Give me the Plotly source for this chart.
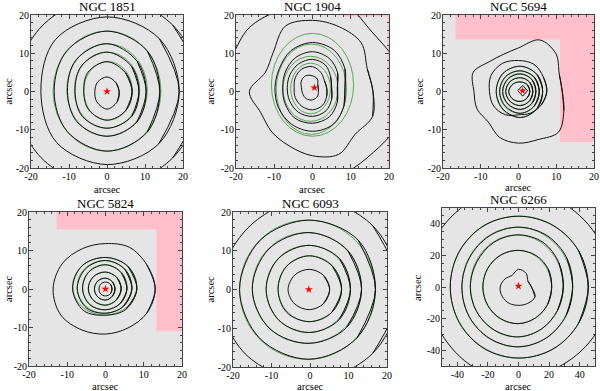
import numpy as np
import plotly.graph_objects as go

# ---------------- data (arcsec) ----------------
NAMES = ["NGC 1851", "NGC 1904", "NGC 5694", "NGC 5824", "NGC 6093", "NGC 6266"]
LIMITS = [20, 20, 20, 20, 20, 50]
TICK_VALS_20 = [-20, -10, 0, 10, 20]
TICK_TEXT_20 = ["-20", "-10", "0", "10", "20"]
TICK_VALS_50 = [-40, -20, 0, 20, 40]
TICK_TEXT_50 = ["-40", "-20", "0", "20", "40"]

# cluster centres (red star)
STAR_X = [0.0, 0.5, 1.1, 0.0, -0.3, 0.0]
STAR_Y = [0.0, 1.0, 0.2, 0.0, 0.0, 0.6]

# isophotes: (centre x, centre y, radii at equally spaced angles starting East, counter-clockwise)
ISO_1851 = [
    (0, 0, [3.2, 3.3, 3.8, 3.5, 3.2, 3.8, 4.6, 3.8]),
    (0, 0, [6.6, 6.9, 7.8, 7.1, 6.1, 6.8, 7.5, 7.0]),
    (0, 0, [8.4, 9.2, 10.3, 9.5, 8.4, 9.2, 9.6, 9.2]),
    (0, 0, [10.3, 11.2, 12.5, 11.6, 10.4, 11.2, 11.7, 11.2]),
    (0, 0, [13.9, 15.0, 15.8, 15.0, 13.9, 14.8, 15.6, 15.0]),
    (0, 0, [19.0, 19.5, 19.5, 19.2, 17.4, 18.8, 19.1, 19.3]),
    (0, 0, [25.0, 24.5, 25.0, 24.2, 24.5, 24.5, 25.0, 24.5]),
]
ISO_1904 = [
    (0, 1, [1.5, 1.6, 2.6, 3.1, 3.6, 3.4, 2.9, 3.0, 3.3, 3.2, 2.6, 1.8]),
    (0, 1, [3.7, 3.6, 4.5, 5.5, 5.6, 5.2, 4.8, 5.2, 5.6, 5.8, 5.3, 4.3]),
    (0, 1, [5.0, 5.5, 6.8, 7.4, 7.2, 6.8, 6.6, 6.9, 7.4, 7.5, 7.0, 5.8]),
    (0, 1, [6.5, 7.6, 8.8, 9.4, 9.0, 8.2, 7.8, 8.3, 9.2, 9.3, 8.8, 7.5]),
    (0, 1, [8.5, 9.8, 11.3, 11.8, 11.2, 10.0, 9.8, 10.3, 11.0, 11.4, 11.0, 9.5]),
    (0, 0, [15.8, 15.5, 18.0, 18.3, 18.6, 18.5, 14.5, 13.3, 16.5, 14.6, 15.0, 15.5, 16.8, 17.8, 15.8, 17.0]),
    (0, 0, [26, 23, 22, 24, 24, 23, 23.5, 23, 26, 28, 30, 30, 25, 23, 22.5, 24]),
]
ISO_5694 = [
    (1.1, 0.2, [1.3, 1.4, 1.3, 1.4]),
    (0.6, 0, [2.4, 2.5, 2.5, 2.8, 3.2, 2.9, 2.6, 2.4]),
    (0.6, 0, [3.2, 3.4, 3.6, 3.8, 4.0, 3.8, 3.7, 3.4]),
    (0.6, 0, [4.0, 4.3, 4.6, 4.7, 4.8, 4.7, 4.7, 4.3]),
    (0.6, 0, [4.9, 5.2, 5.4, 5.6, 5.6, 5.6, 5.7, 5.2]),
    (0.6, 0, [5.8, 6.2, 6.6, 6.7, 6.5, 6.6, 6.8, 6.2]),
    (0, 0, [7.5, 7.6, 8.2, 8.1, 8.5, 8.4, 7.7, 7.6, 7.0, 6.1, 6.5, 7.0]),
    (0, 0, [11.6, 11.7, 14.0, 14.6, 11.4, 10.5, 11.0, 13.0, 11.8, 11.9, 11.3, 13.0, 13.5, 13.6, 15.0, 13.0]),
]
ISO_5824 = [
    (0, 0, [1.7, 1.8, 1.8, 1.8, 1.7, 1.8, 1.8, 1.8]),
    (0, 0, [2.5, 2.6, 2.8, 2.9, 2.9, 2.9, 2.9, 2.6]),
    (0, 0, [4.1, 4.2, 4.4, 4.5, 4.5, 4.3, 4.2, 4.0]),
    (0, 0, [5.6, 5.9, 6.3, 6.2, 6.0, 5.8, 5.4, 5.4]),
    (0, 0, [6.9, 7.2, 7.4, 7.4, 7.4, 7.0, 6.3, 6.5]),
    (0, 0, [8.2, 8.3, 8.2, 8.6, 8.6, 8.0, 6.8, 7.5]),
    (0, 0, [13.0, 12.5, 12.5, 11.8, 12.1, 13.1, 13.7, 13.5, 12.3, 11.7, 11.7, 12.5]),
]
ISO_6093 = [
    (-0.2, 0, [5.3, 5.2, 5.2, 5.3, 5.5, 5.3, 5.2, 5.2]),
    (-0.2, 0, [8.4, 8.5, 8.7, 8.4, 8.1, 8.3, 8.3, 8.3]),
    (-0.2, 0, [10.7, 11.2, 11.4, 11.3, 11.2, 11.2, 11.1, 11.0]),
    (-0.2, 0, [13.6, 14.2, 14.7, 14.8, 14.8, 14.4, 13.9, 13.8]),
    (-0.2, 0, [17.2, 18.0, 17.9, 18.0, 18.1, 18.0, 18.0, 17.6]),
    (-0.2, 0, [23.5, 23.3, 23.5, 22.5, 23.5, 23.5, 23.5, 23.3]),
]
ISO_6266 = [
    (0, 0, [8.5, 7.2, 10.0, 11.2, 8.5, 10.2, 12.0, 12.2, 12.0, 11.6, 12.0, 12.5]),
    (0, 0, [21.7, 22.5, 23.0, 23.2, 23.3, 23.3, 23.3, 23.2, 23.2, 23.2, 22.5, 22.0]),
    (0, 0, [29.3, 30.5, 32.5, 33.0, 32.5, 31.5, 31.5, 31.5, 31.5, 31.6, 30.5, 29.5]),
    (0, 0, [35.4, 36.5, 37.5, 37.9, 37.5, 37.0, 37.0, 37.3, 37.6, 37.9, 37.0, 36.0]),
    (0, 0, [45.6, 45.5, 45.0, 44.8, 45.0, 44.8, 44.6, 44.8, 45.0, 45.0, 45.3, 45.5]),
    (0, 0, [60.0, 60.5, 60.5, 62.0, 62.5, 62.5, 61.0, 58.5, 58.5, 57.5, 57.0, 58.5]),
]

# fitted ellipses: (x0, y0, semi-axis x, semi-axis y)
ELL_1851 = [(0.25, 0.15, 6.4, 7.65), (0.0, 0.35, 8.6, 9.95), (0.0, 0.4, 10.6, 12.1), (0.0, 0.1, 14.2, 15.7)]
ELL_1904 = [(0, 1.75, 10.75, 13.45), (-0.3, 0.6, 9.2, 11.8), (-0.5, 0.7, 7.2, 8.5), (-0.5, 0.8, 5.2, 6.6)]
ELL_5694 = [(0.2, 0, 2.8, 2.55), (0.2, 0, 3.6, 3.65), (0.2, 0, 4.4, 4.65), (0.25, -0.15, 5.25, 5.55), (0.25, -0.1, 6.15, 6.7)]
ELL_5824 = [(-0.2, 0, 2.7, 2.85), (-0.2, 0.1, 4.3, 4.3), (-0.2, 0.45, 5.8, 5.85), (-0.25, 0.55, 7.15, 6.85), (-0.2, 0.7, 8.4, 7.5)]
ELL_6093 = [(-0.05, 0.2, 8.25, 8.5), (-0.45, 0.15, 10.95, 11.25), (-0.8, 0.4, 14.2, 14.3), (-0.65, -0.05, 17.65, 17.95)]
ELL_6266 = [(-0.8, 0, 22.5, 23.2), (-1.1, 0.7, 30.4, 32.3), (-0.8, 0, 36.2, 37.9), (0.5, 0, 45.1, 44.9)]

# masked regions: (x0, x1, y0, y1)
MASK_1904 = [(8, 20, 19.6, 20), (19.6, 20, -20, 20)]
MASK_5694 = [(-16.7, 20, 13.6, 20), (11, 20, -13.2, 20)]
MASK_5824 = [(-12.8, 20, 15.5, 20), (13.3, 20, -11, 20)]

ISOS = [ISO_1851, ISO_1904, ISO_5694, ISO_5824, ISO_6093, ISO_6266]
ELLS = [ELL_1851, ELL_1904, ELL_5694, ELL_5824, ELL_6093, ELL_6266]
MASKS = [[], MASK_1904, MASK_5694, MASK_5824, [], []]

# ---------------- layout (pixels) ----------------
W, H = 600, 391
BOXES = [  # left, right, top, bottom
    (31, 183, 15, 168), (236, 389, 15, 168), (443, 594, 15, 168),
    (29, 182, 212, 366), (233, 387, 212, 367), (442, 595, 208, 366),
]
TITLE_Y = [7, 7, 7, 203, 203, 199.5]
XLAB_Y = [190, 190, 187.5, 386.5, 386.5, 386.5]
YLAB_X = [8, 210, 419, 8, 210, 417]

FONT = "Liberation Serif"
GREEN = "rgb(70,160,70)"
BLACK = "#111111"
AXC = "#444444"

fig = go.Figure()
shapes = []
annotations = []
layout = {}

for i in range(6):
    n = i + 1
    xa = "x" if n == 1 else f"x{n}"
    ya = "y" if n == 1 else f"y{n}"
    l, r, t, b = BOXES[i]
    lim = LIMITS[i]
    tv, tt = (TICK_VALS_20, TICK_TEXT_20) if lim == 20 else (TICK_VALS_50, TICK_TEXT_50)
    mstep = 2 if lim == 20 else 5
    minor_vals = list(range(-lim, lim + 1, mstep))
    common = dict(
        range=[-lim, lim], showgrid=False, zeroline=False, showline=True,
        linecolor=AXC, linewidth=1, mirror="ticks", ticks="inside", ticklen=4,
        tickcolor=AXC, tickwidth=1, tickmode="array", tickvals=tv, ticktext=tt,
        minor=dict(ticks="inside", ticklen=2, tickcolor=AXC, tickwidth=1,
                   tickmode="array", tickvals=minor_vals),
        tickfont=dict(family=FONT, size=10, color="black"), fixedrange=True,
        automargin=False,
    )
    layout[f"xaxis{'' if n == 1 else n}"] = dict(common, domain=[l / W, r / W], anchor=ya,
                                                   ticklabelstandoff=-1)
    layout[f"yaxis{'' if n == 1 else n}"] = dict(common, domain=[1 - b / H, 1 - t / H], anchor=xa,
                                                   ticklabelstandoff=-1)

    # masks
    for (x0, x1, y0, y1) in MASKS[i]:
        shapes.append(dict(type="rect", xref=xa, yref=ya, x0=x0, x1=x1, y0=y0, y1=y1,
                           fillcolor="#ffc0cb", line=dict(width=0), layer="below"))
    # fitted ellipses (under the isophotes)
    for (x0, y0, ax, ay) in ELLS[i]:
        shapes.append(dict(type="circle", xref=xa, yref=ya, x0=x0 - ax, x1=x0 + ax,
                           y0=y0 - ay, y1=y0 + ay, line=dict(color=GREEN, width=0.9),
                           layer="below"))
    # isophotes
    for (cx, cy, radii) in ISOS[i]:
        rr = np.array(radii, dtype=float)
        k = len(rr)
        th = 2 * np.pi * np.arange(k) / k
        px = cx + rr * np.cos(th)
        py = cy + rr * np.sin(th)
        if k == 4:
            idx = list(range(k)) + [0]
            shape = "linear"
        else:
            idx = [k - 1] + list(range(k)) + [0, 1]
            shape = "spline"
        fig.add_trace(go.Scatter(x=px[idx], y=py[idx], mode="lines", xaxis=xa, yaxis=ya,
                                 line=dict(color=BLACK, width=1.0, shape=shape, smoothing=1.0),
                                 hoverinfo="skip", showlegend=False))
    # centre
    fig.add_trace(go.Scatter(x=[STAR_X[i]], y=[STAR_Y[i]], mode="markers", xaxis=xa, yaxis=ya,
                             marker=dict(symbol="star", size=6, color="red", line=dict(width=0)),
                             hoverinfo="skip", showlegend=False))
    # texts
    cxp = (l + r) / 2 / W
    annotations.append(dict(text=NAMES[i], xref="paper", yref="paper", x=cxp, y=1 - TITLE_Y[i] / H,
                            xanchor="center", yanchor="middle", showarrow=False,
                            font=dict(family=FONT, size=13, color="black")))
    annotations.append(dict(text="arcsec", xref="paper", yref="paper", x=cxp, y=1 - XLAB_Y[i] / H,
                            xanchor="center", yanchor="middle", showarrow=False,
                            font=dict(family=FONT, size=10.5, color="black")))
    annotations.append(dict(text="arcsec", xref="paper", yref="paper", x=YLAB_X[i] / W,
                            y=1 - (t + b) / 2 / H, xanchor="center", yanchor="middle",
                            textangle=-90, showarrow=False,
                            font=dict(family=FONT, size=10.5, color="black")))

fig.update_layout(
    width=W, height=H, margin=dict(l=0, r=0, t=0, b=0, autoexpand=False),
    paper_bgcolor="white", plot_bgcolor="#e5e5e5",
    shapes=shapes, annotations=annotations, showlegend=False,
    **layout,
)
fig.write_html("out.html", config={"displayModeBar": False},
               post_script="document.body.style.margin='0px';")
